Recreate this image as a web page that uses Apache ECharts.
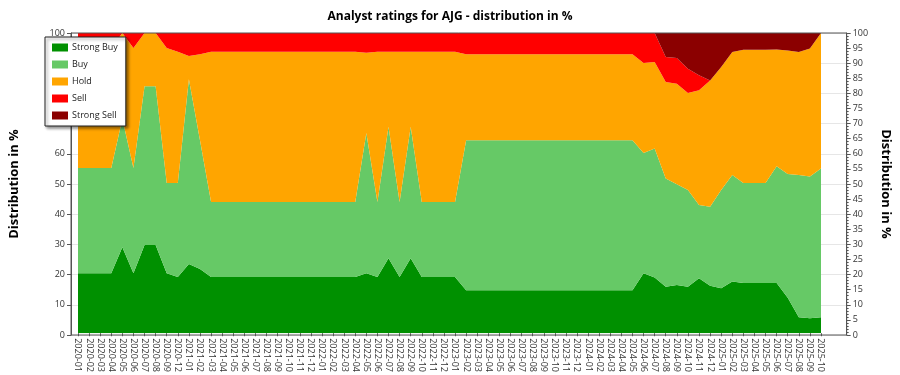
<!DOCTYPE html>
<html>
<head>
<meta charset="utf-8">
<script src="https://cdn.jsdelivr.net/npm/echarts@6/dist/echarts.min.js"></script>
<style>
html,body{margin:0;padding:0;background:#fff;}
#chart{width:900px;height:375px;}
</style>
</head>
<body>
<div id="chart"></div>
<script>
const categories = [
"2020-01","2020-02","2020-03","2020-04","2020-05","2020-06","2020-07","2020-08","2020-09","2020-12",
"2021-01","2021-02","2021-03","2021-04","2021-05","2021-06","2021-07","2021-08","2021-09","2021-10","2021-11","2021-12",
"2022-01","2022-02","2022-03","2022-04","2022-05","2022-06","2022-07","2022-08","2022-09","2022-10","2022-11","2022-12",
"2023-01","2023-02","2023-03","2023-04","2023-05","2023-06","2023-07","2023-08","2023-09","2023-10","2023-11","2023-12",
"2024-01","2024-02","2024-03","2024-04","2024-05","2024-06","2024-07","2024-08","2024-09","2024-10","2024-11","2024-12",
"2025-01","2025-02","2025-03","2025-04","2025-05","2025-06","2025-07","2025-08","2025-09","2025-10"
];

const strongBuy = [
20,20,20,20,28.6,20,29.4,29.4,20,18.75,
23.1,21.4,18.75,18.75,18.75,18.75,18.75,18.75,18.75,18.75,18.75,18.75,
18.75,18.75,18.75,18.75,20,18.75,25,18.75,25,18.75,18.75,18.75,
18.75,14.3,14.3,14.3,14.3,14.3,14.3,14.3,14.3,14.3,14.3,14.3,
14.3,14.3,14.3,14.3,14.3,20,18.6,15.5,16.1,15.5,18.3,15.8,
15,17.2,16.7,16.7,16.7,16.7,11.8,5.3,5.0,5.3
];
const buy = [
35,35,35,35,42.8,35,52.9,52.9,30,31.25,
61.5,42.9,25,25,25,25,25,25,25,25,25,25,
25,25,25,25,46.7,25,43.75,25,43.75,25,25,25,
25,50,50,50,50,50,50,50,50,50,50,50,
50,50,50,50,50,40,42.9,36,33.5,32.2,24.4,26.3,
32.7,35.5,33.3,33.3,33.3,38.9,41.2,47.4,47.2,49.6
];
const hold = [
40,40,40,40,28.6,40,17.7,17.7,45,43.75,
7.7,28.6,50,50,50,50,50,50,50,50,50,50,
50,50,50,50,26.7,50,25,50,25,50,50,50,
50,28.6,28.6,28.6,28.6,28.6,28.6,28.6,28.6,28.6,28.6,28.6,
28.6,28.6,28.6,28.6,28.6,30,28.8,32.2,33.5,32.3,38.2,42.1,
41,41,44.4,44.4,44.4,38.9,41.2,41,42.6,45.1
];
const sell = [
5,5,5,5,0,5,0,0,5,6.25,
7.7,7.1,6.25,6.25,6.25,6.25,6.25,6.25,6.25,6.25,6.25,6.25,
6.25,6.25,6.25,6.25,6.6,6.25,6.25,6.25,6.25,6.25,6.25,6.25,
6.25,7.1,7.1,7.1,7.1,7.1,7.1,7.1,7.1,7.1,7.1,7.1,
7.1,7.1,7.1,7.1,7.1,10,9.7,8.3,8.6,8.1,5,0,
0,0,0,0,0,0,0,0,0,0
];
const strongSell = [
0,0,0,0,0,0,0,0,0,0,
0,0,0,0,0,0,0,0,0,0,0,0,
0,0,0,0,0,0,0,0,0,0,0,0,
0,0,0,0,0,0,0,0,0,0,0,0,
0,0,0,0,0,0,0,8,8.3,11.9,14.1,15.8,
11.3,6.3,5.6,5.6,5.6,5.6,5.9,6.3,5.2,0
];

const seriesNames = ["Strong Buy","Buy","Hold","Sell","Strong Sell"];
const seriesColors = ["#009000","#66C966","#FFA500","#FF0000","#8B0000"];
const seriesData = [strongBuy, buy, hold, sell, strongSell];

const FONT = "Open Sans";
const chart = echarts.init(document.getElementById('chart'), null, {renderer:'canvas'});

const option = {
  animation: false,
  textStyle: {fontFamily: FONT},
  title: {
    text: "Analyst ratings for AJG - distribution in %",
    left: 'center', top: 6,
    textStyle: {fontFamily: FONT, fontSize: 12, fontWeight: 'bold', color: '#000'}
  },
  legend: {
    orient: 'vertical',
    left: 45, top: 37,
    data: seriesNames,
    itemWidth: 16, itemHeight: 8, itemGap: 8,
    padding: [6, 8, 6, 7],
    backgroundColor: '#fff',
    borderColor: '#222', borderWidth: 1, borderRadius: 0,
    shadowBlur: 3, shadowOffsetX: 2, shadowOffsetY: 2, shadowColor: 'rgba(0,0,0,0.45)',
    textStyle: {fontFamily: FONT, fontSize: 9, color: '#222', padding: [0,0,0,-1]},
    icon: 'rect',
    selectedMode: false,
    z: 20
  },
  grid: [
    {left: 70, right: 40, top: 33, bottom: 40, show: true, borderColor: '#555', borderWidth: 1, backgroundColor: 'transparent', z: 5},
    {left: 78, right: 79, top: 33, bottom: 40}
  ],
  xAxis: [
    {gridIndex: 0, type: 'value', min: 0, max: 1, show: false},
    {
      gridIndex: 1, type: 'category', data: categories, boundaryGap: false,
      axisLine: {show: false},
      axisTick: {show: true, length: 3, lineStyle: {color: '#555'}},
      axisLabel: {rotate: -90, interval: 0, fontSize: 9, color: '#333', fontFamily: FONT, margin: 5}
    }
  ],
  yAxis: [
    {
      gridIndex: 0, type: 'value', position: 'left', min: 0, max: 100, interval: 10,
      name: "Distribution in %", nameLocation: 'middle', nameGap: 50, nameRotate: 90,
      nameTextStyle: {fontFamily: FONT, fontSize: 13, fontWeight: 'bold', color: '#000'},
      axisLine: {show: true, lineStyle: {color: '#555'}},
      axisTick: {show: true, length: 4, lineStyle: {color: '#555'}},
      axisLabel: {fontSize: 9, color: '#333', margin: 6, fontFamily: FONT},
      splitLine: {show: true, lineStyle: {color: '#e6e6e6', width: 1}}
    },
    {
      gridIndex: 0, type: 'value', position: 'right', min: 0, max: 100, interval: 5,
      name: "Distribution in %", nameLocation: 'middle', nameGap: 28, nameRotate: -90,
      nameTextStyle: {fontFamily: FONT, fontSize: 13, fontWeight: 'bold', color: '#000'},
      axisLine: {show: true, lineStyle: {color: '#555'}},
      axisTick: {show: true, length: 4, lineStyle: {color: '#555'}},
      minorTick: {show: true, splitNumber: 5, length: 2, lineStyle: {color: '#555'}},
      axisLabel: {fontSize: 9, color: '#333', margin: 6, fontFamily: FONT},
      splitLine: {show: false}
    },
    {gridIndex: 1, type: 'value', min: 0, max: 100, show: false}
  ],
  series: seriesNames.map((name, k) => ({
    name: name,
    type: 'line',
    stack: 'total',
    xAxisIndex: 1,
    yAxisIndex: 2,
    data: seriesData[k],
    symbol: 'none',
    color: seriesColors[k],
    lineStyle: {width: 0},
    areaStyle: {color: seriesColors[k], opacity: 1},
    z: 2
  }))
};
chart.setOption(option);
</script>
</body>
</html>
